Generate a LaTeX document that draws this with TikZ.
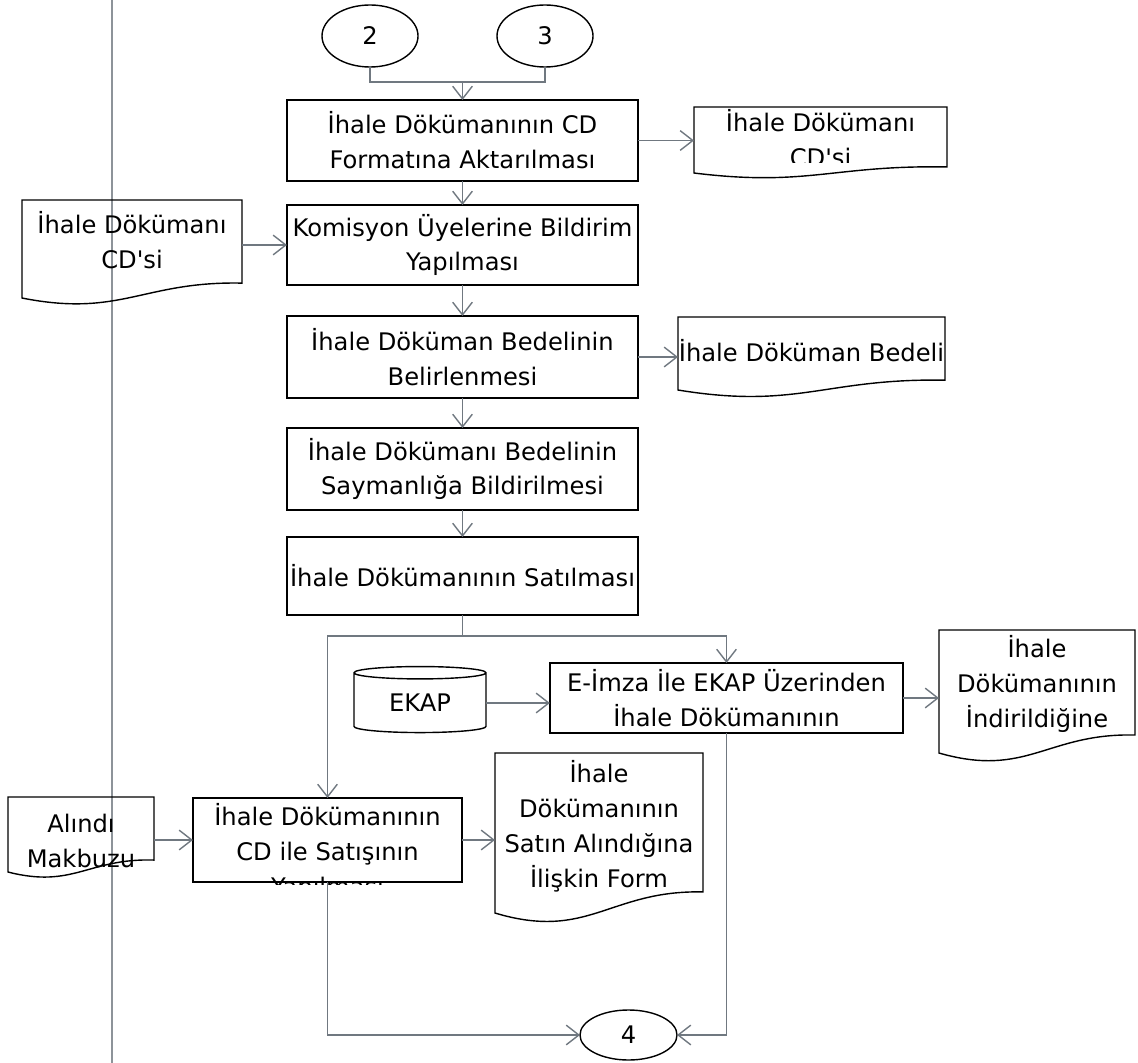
\documentclass[tikz,border=0pt]{standalone}
\usepackage{fontspec}
\setmainfont{DejaVu Sans}
\usetikzlibrary{arrows.meta,calc,shapes.geometric}

\definecolor{linegray}{RGB}{112,120,128}

\tikzset{
	txt/.style={font=\fontsize{17.2}{24.8}\selectfont, align=center, inner sep=0pt},
	box/.style={txt, draw, line width=1pt, outer sep=0pt},
	conn/.style={box, ellipse},
	doc/.style={inner sep=0pt, outer sep=0pt},
	docline/.style={draw, line width=1pt},
	link/.style={draw=linegray, line width=1pt},
	flow/.style={link, -{Straight Barb[length=9pt,width=14pt]}},
	lane/.style={draw=linegray!80, line width=0.9pt}
}

% outline of a document shape: node, rise of right corner, dip
\newcommand\docpath[3]{(#1.south west) -- (#1.north west) -- (#1.north east) -- ([yshift=#2]#1.south east)
	.. controls ($(#1.south east)!0.45!(#1.south west)+(0pt,#2+1.5pt)$) and ($(#1.south west)!0.45!(#1.south east)+(0pt,#3)$) .. (#1.south west) -- cycle}

\begin{document}
\begin{tikzpicture}[x=0.025cm, y=-0.025cm]
		\useasboundingbox (0,0) rectangle (1138,1063);
		\draw[lane] (112,0) -- (112,1063);

		\node (c2) [conn, minimum width=2.4cm, minimum height=1.55cm] at (370,36) {2};
		\node (c3) [conn, minimum width=2.4cm, minimum height=1.55cm] at (545,36) {3};
		\node (b1) [box, minimum width=8.775cm, minimum height=2.025cm] at (462.5,140.5) {İhale Dökümanının CD\\Formatına Aktarılması};
		\node (b2) [box, minimum width=8.775cm, minimum height=2cm] at (462.5,245) {Komisyon Üyelerine Bildirim\\Yapılması};
		\node (b3) [box, minimum width=8.775cm, minimum height=2.05cm] at (462.5,357) {İhale Döküman Bedelinin\\Belirlenmesi};
		\node (b4) [box, minimum width=8.775cm, minimum height=2.05cm] at (462.5,469) {İhale Dökümanı Bedelinin\\Saymanlığa Bildirilmesi};
		\node (b5) [box, minimum width=8.775cm, minimum height=1.95cm] at (462.5,576) {İhale Dökümanının Satılması};
		\node (b7) [box, minimum width=8.825cm, minimum height=1.75cm] at (726.5,698) {E-İmza İle EKAP Üzerinden\\İhale Dökümanının};
		\node (b6) [box, minimum width=6.725cm, minimum height=2.1cm] at (327.5,840) {};
		\begin{scope}
			\clip (193,798) rectangle (462,884);
			\node (b6txt) [txt] at (327.5,852) {İhale Dökümanının\\CD ile Satışının\\Yapılması};
		\end{scope}
		\node (ekap) [box, cylinder, shape border rotate=90, aspect=0.2, minimum width=3.3cm, minimum height=1.65cm] at (420,703) {EKAP};
		\node (c4) [conn, minimum width=2.425cm, minimum height=1.25cm] at (628.5,1035) {4};

		\node (d0) [doc, minimum width=5.5cm, minimum height=2.45cm] at (132,249) {};
		\node (d1) [doc, minimum width=6.325cm, minimum height=1.65cm] at (820.5,140) {};
		\node (d2) [doc, minimum width=6.675cm, minimum height=1.825cm] at (811.5,353.5) {};
		\node (d3) [doc, minimum width=4.9cm, minimum height=3.075cm] at (1037,691.5) {};
		\node (d4) [doc, minimum width=3.65cm, minimum height=1.875cm] at (81,834.5) {};
		\node (d5) [doc, minimum width=5.2cm, minimum height=4cm] at (599,833) {};

		\draw[docline] \docpath{d0}{10.6pt}{-14pt};
		\draw[docline] \docpath{d1}{4.3pt}{-10pt};
		\draw[docline] \docpath{d2}{7pt}{-14pt};
		\draw[docline] \docpath{d3}{12.8pt}{-18pt};
		\draw[docline] \docpath{d4}{8.5pt}{-12pt};
		\draw[docline] \docpath{d5}{15pt}{-20pt};

		\node (d0txt) [txt] at (132,240) {İhale Dökümanı\\CD\textquotesingle si};
		\begin{scope}
			\clip (694,107) rectangle (947,163);
			\node (d1txt) [txt] at (820.5,138.5) {İhale Dökümanı\\CD\textquotesingle si};
		\end{scope}
		\node (d2txt) [txt] at (811.5,351) {İhale Döküman Bedeli};
		\node (d3txt) [txt] at (1037,684) {İhale\\Dökümanının\\İndirildiğine};
		\node (d4txt) [txt] at (81,841) {Alındı\\Makbuzu};
		\node (d5txt) [txt] at (599,826) {İhale\\Dökümanının\\Satın Alındığına\\İlişkin Form};

		\coordinate (j1) at (462.5,82);
		\coordinate (j2) at (462.5,636);
		\draw[link] (c2.south) |- (j1) -| (c3.south);
		\draw[flow] (j1) -- (b1.north);
		\draw[flow] (b1.east) -- (b1.east -| d1.west);
		\draw[flow] (b1.south) -- (b2.north);
		\draw[flow] (d0.east |- b2.west) -- (b2.west);
		\draw[flow] (b2.south) -- (b3.north);
		\draw[flow] (b3.east) -- (b3.east -| d2.west);
		\draw[flow] (b3.south) -- (b4.north);
		\draw[flow] (b4.south) -- (b5.north);
		\draw[link] (b5.south) -- (j2);
		\draw[flow] (j2) -| (b6.north);
		\draw[flow] (j2) -| (b7.north);
		\draw[flow] (ekap.east) -- (ekap.east -| b7.west);
		\draw[flow] (b7.east) -- (b7.east -| d3.west);
		\draw[flow] (d4.east |- b6.west) -- (b6.west);
		\draw[flow] (b6.east) -- (b6.east -| d5.west);
		\draw[flow] (b6.south) |- (c4.west);
		\draw[flow] (b7.south) |- (c4.east);
\end{tikzpicture}
\end{document}
